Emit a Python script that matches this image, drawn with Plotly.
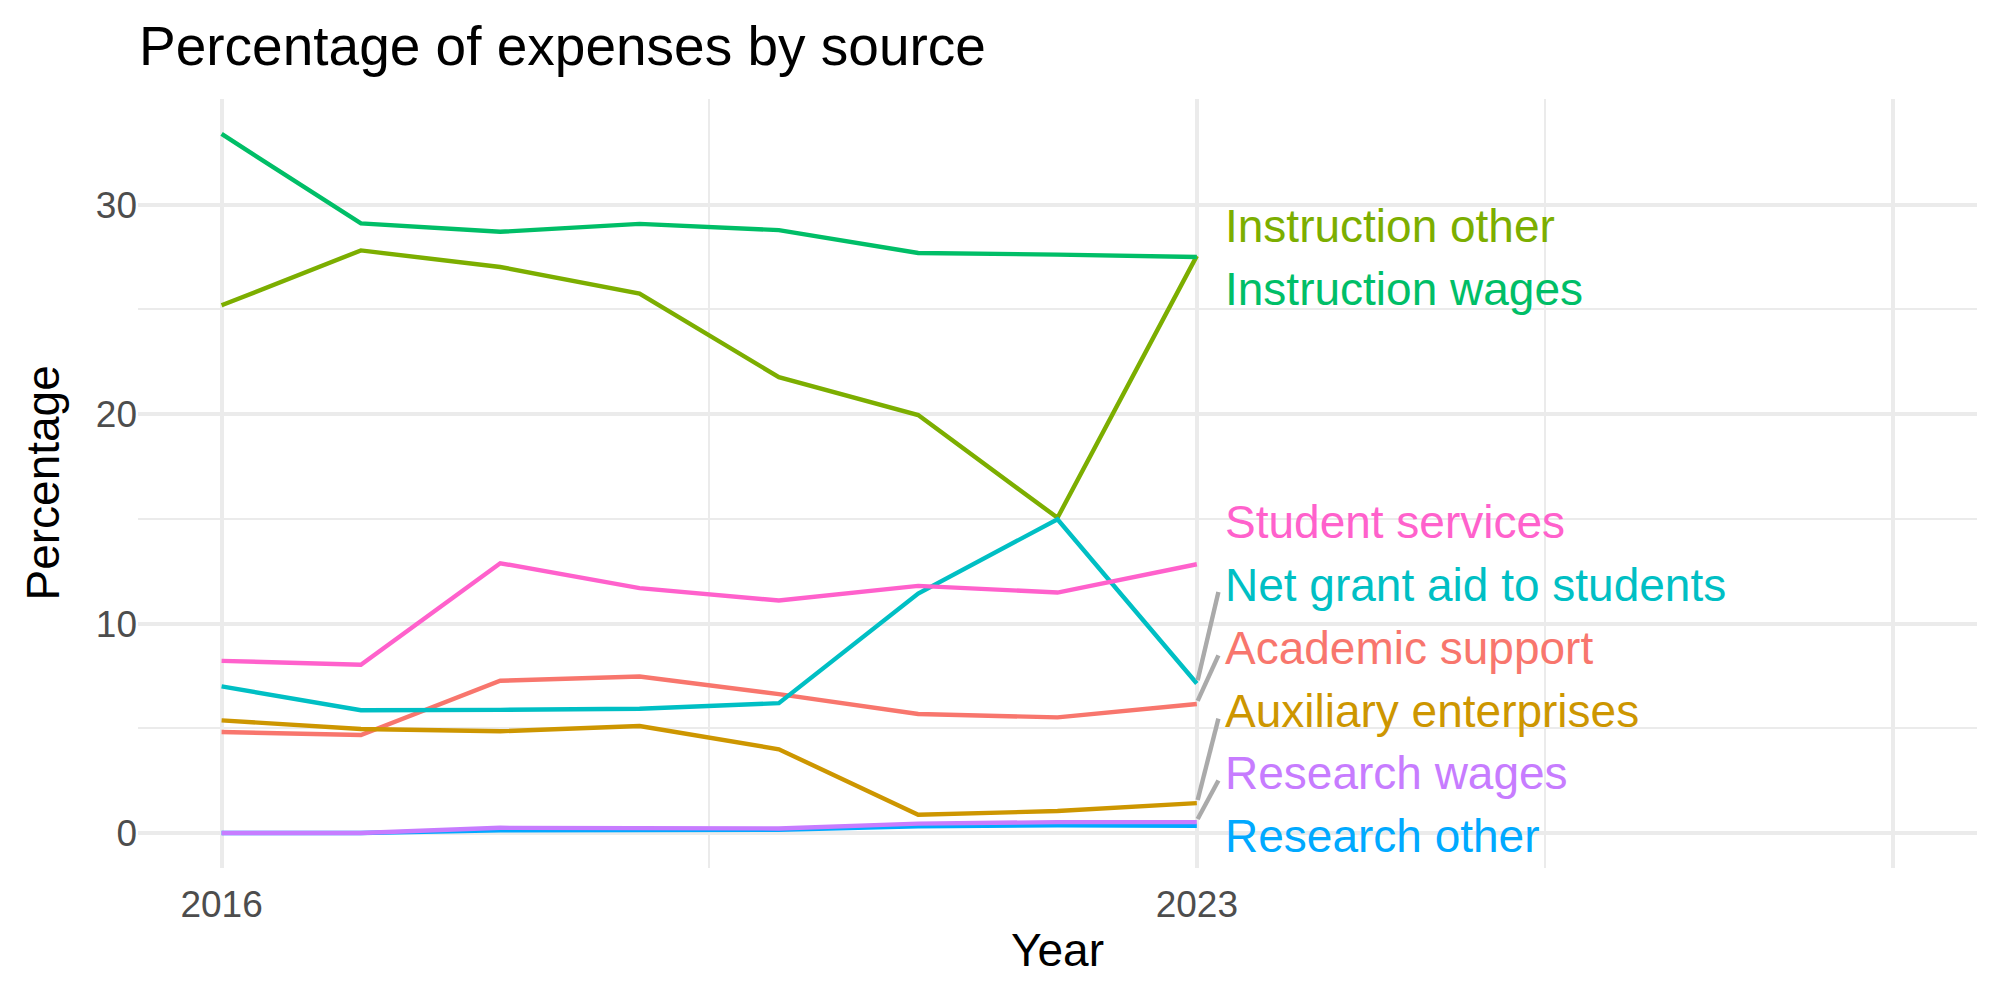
import plotly.graph_objects as go

# ---------------- data ----------------
years = [2016, 2017, 2018, 2019, 2020, 2021, 2022, 2023]

academic_support = [4.82, 4.68, 7.27, 7.47, 6.63, 5.68, 5.52, 6.16]
auxiliary_enterprises = [5.38, 4.97, 4.86, 5.11, 4.00, 0.87, 1.05, 1.43]
instruction_other = [25.19, 27.81, 27.02, 25.75, 21.76, 19.95, 15.05, 27.55]
instruction_wages = [33.37, 29.10, 28.70, 29.08, 28.78, 27.69, 27.61, 27.50]
net_grant_aid = [7.00, 5.86, 5.88, 5.93, 6.20, 11.43, 14.98, 7.14]
research_other = [0.00, 0.00, 0.13, 0.13, 0.16, 0.32, 0.37, 0.35]
research_wages = [0.00, 0.00, 0.25, 0.24, 0.22, 0.45, 0.52, 0.52]
student_services = [8.22, 8.03, 12.88, 11.69, 11.10, 11.80, 11.48, 12.83]

series_names = [
    "Academic support",
    "Auxiliary enterprises",
    "Instruction other",
    "Instruction wages",
    "Net grant aid to students",
    "Research other",
    "Research wages",
    "Student services",
]
series_values = [
    academic_support,
    auxiliary_enterprises,
    instruction_other,
    instruction_wages,
    net_grant_aid,
    research_other,
    research_wages,
    student_services,
]

x_tick_values = [2016, 2023, 2028]
x_tick_labels = ["2016", "2023", ""]
y_tick_values = [0, 10, 20, 30]
y_tick_labels = ["0", "10", "20", "30"]

# ---------------- styling / layout ----------------
colors = ["#F8766D", "#CD9600", "#7CAE00", "#00BE67",
          "#00BFC4", "#00A9FF", "#C77CFF", "#FF61CC"]
# repelled label positions (in y units) for the end-of-line labels
label_pos = {
    "Instruction other": 28.97,
    "Instruction wages": 25.95,
    "Student services": 14.87,
    "Net grant aid to students": 11.85,
    "Academic support": 8.83,
    "Auxiliary enterprises": 5.81,
    "Research wages": 2.86,
    "Research other": -0.16,
}
label_x = 2023.214
seg_end_x = 2023.155

FONT = "Liberation Sans, Arial, Helvetica, sans-serif"
GRID = "#EBEBEB"
W, H = 2000, 1000
ML, MR, MT, MB = 138, 23, 99, 132

x_lim = (2016, 2028)
x_pad = 0.05 * (x_lim[1] - x_lim[0])
x_range = [x_lim[0] - x_pad, x_lim[1] + x_pad]
all_vals = [v for s in series_values for v in s]
y_lo, y_hi = min(all_vals), max(all_vals)
y_pad = 0.05 * (y_hi - y_lo)
y_range = [y_lo - y_pad, y_hi + y_pad]

fig = go.Figure()

for name, vals, col in zip(series_names, series_values, colors):
    fig.add_trace(go.Scatter(
        x=years, y=vals, mode="lines", name=name,
        line=dict(color=col, width=4.4),
        showlegend=False, hoverinfo="skip",
    ))

annotations = []
last_year = years[-1]
for name, vals, col in zip(series_names, series_values, colors):
    ly = label_pos[name]
    last = vals[-1]
    if abs(ly - last) > 2.2:
        sgn = 1 if ly > last else -1
        fig.add_trace(go.Scatter(
            x=[last_year + 0.006, seg_end_x],
            y=[last + 0.15 * sgn, ly - 0.35 * sgn],
            mode="lines", line=dict(color="#AAAAAA", width=4.4),
            showlegend=False, hoverinfo="skip",
        ))
    annotations.append(dict(
        x=label_x, y=ly, xref="x", yref="y", text=name,
        showarrow=False, xanchor="left", yanchor="middle", xshift=-4,
        font=dict(family=FONT, size=46, color=col),
    ))

pw = W - ML - MR
ph = H - MT - MB
# title
annotations.append(dict(
    x=(140 - ML) / pw, y=(H - MB - 46) / ph, xref="paper", yref="paper",
    text="Percentage of expenses by source", showarrow=False,
    xanchor="left", yanchor="middle", xshift=-3,
    font=dict(family=FONT, size=55, color="black"),
))
# axis titles
annotations.append(dict(
    x=0.5, y=(H - MB - 950) / ph, xref="paper", yref="paper",
    text="Year", showarrow=False, xanchor="center", yanchor="middle",
    font=dict(family=FONT, size=46, color="black"),
))
annotations.append(dict(
    x=(42 - ML) / pw, y=0.5, xref="paper", yref="paper",
    text="Percentage", showarrow=False, xanchor="center", yanchor="middle",
    textangle=-90,
    font=dict(family=FONT, size=46, color="black"),
))

fig.update_layout(
    width=W, height=H,
    margin=dict(l=ML, r=MR, t=MT, b=MB, autoexpand=False),
    paper_bgcolor="white", plot_bgcolor="white",
    font=dict(family=FONT),
    annotations=annotations,
    xaxis=dict(
        range=x_range, tickmode="array", tickvals=x_tick_values,
        ticktext=x_tick_labels, showgrid=True, gridcolor=GRID, gridwidth=4.4,
        zeroline=False, showline=False, ticks="", ticklabelstandoff=11,
        tickfont=dict(family=FONT, size=37, color="#4D4D4D"),
        minor=dict(tickmode="array", tickvals=[2019.5, 2025.5],
                   showgrid=True, gridcolor=GRID, gridwidth=2.2, ticks=""),
        automargin=False,
    ),
    yaxis=dict(
        range=y_range, tickmode="array", tickvals=y_tick_values,
        ticktext=y_tick_labels, showgrid=True, gridcolor=GRID, gridwidth=4.4,
        zeroline=False, showline=False, ticks="",
        tickfont=dict(family=FONT, size=37, color="#4D4D4D"),
        minor=dict(tickmode="array", tickvals=[5, 15, 25, 35],
                   showgrid=True, gridcolor=GRID, gridwidth=2.2, ticks=""),
        automargin=False,
    ),
)

fig.write_html("out.html")
